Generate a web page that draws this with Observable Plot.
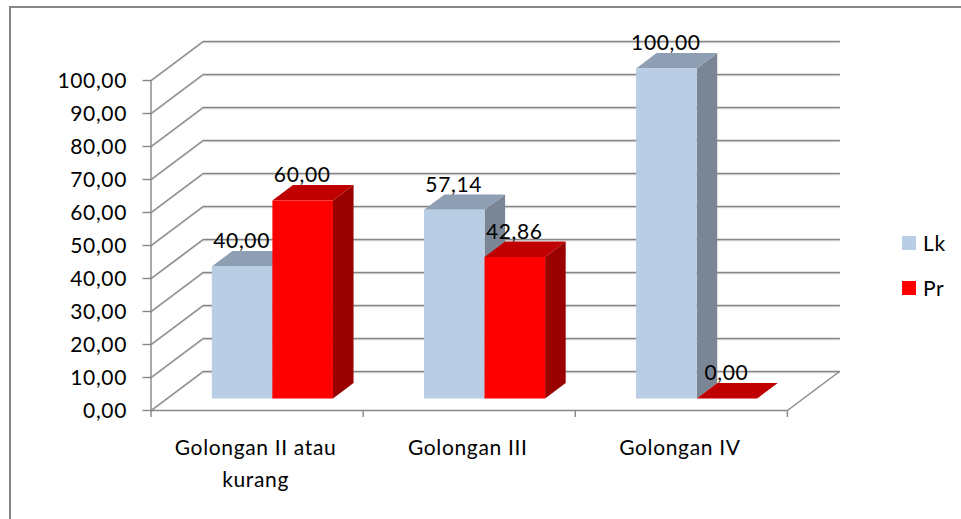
<!DOCTYPE html>
<html><head><meta charset="utf-8">
<script src="https://cdn.jsdelivr.net/npm/d3@7"></script>
<script src="https://cdn.jsdelivr.net/npm/@observablehq/plot@0.6"></script>
<style>
html,body{margin:0;padding:0;background:#fff;overflow:hidden}
#wrap{position:relative;width:961px;height:519px;overflow:hidden;font-family:Lato,sans-serif;color:#000}
#frame{position:absolute;left:9px;top:6px;width:1000px;height:600px;border:2px solid #868686;box-sizing:border-box}
#chart{position:absolute;left:0;top:0}
#chart svg{background:transparent;display:block}
#chart svg text{letter-spacing:.65px}
.lg{position:absolute;left:902px;width:14px;height:14px}
.lt{position:absolute;left:923px;font-size:21px;line-height:24px;letter-spacing:.6px}
</style></head><body>
<div id="wrap"><div id="frame"></div><div id="chart"></div>
<div class="lg" style="top:236px;background:#B9CDE5"></div><div class="lt" style="top:231px">Lk</div>
<div class="lg" style="top:281px;background:#FF0000"></div><div class="lt" style="top:276px">Pr</div>
</div>
<script>
const categories = ["Golongan II atau\nkurang", "Golongan III", "Golongan IV"];
const seriesNames = ["Lk", "Pr"];
const lkValues = [40, 57.14, 100];
const prValues = [60, 42.86, 0];
const yTicks = [0,10,20,30,40,50,60,70,80,90,100];
const catEdges = [0,1,2,3];

// oblique 3D projection, in data units
const depthX = 0.2455, depthY = 11.82;
const proj = (c, v, d) => ({x: c + d * depthX, y: v + d * depthY});
const comma = v => v.toFixed(2).replace(".", ",");
const gridCol = "#868686";

const palette = {
  Lk: {front: "#B9CDE5", top: "#8E9EB3", side: "#7A8695"},
  Pr: {front: "#FF0000", top: "#C00000", side: "#990000"}
};
const barW = 0.2856, barStart = 0.2105, dFront = 0.31, dBack = 0.705;

const bars = [];
categories.forEach((_, i) => {
  bars.push({s: "Lk", v: lkValues[i], c0: i + barStart, c1: i + barStart + barW});
  bars.push({s: "Pr", v: prValues[i], c0: i + barStart + barW, c1: i + barStart + 2 * barW});
});

const face = (pts, fill) => Plot.line(pts, {x: "x", y: "y", fill, stroke: "none", curve: "linear"});

const barMarks = bars.flatMap(b => {
  const p = palette[b.s];
  const marks = [];
  if (b.v > 0) marks.push(face([proj(b.c1,0,dFront),proj(b.c1,b.v,dFront),proj(b.c1,b.v,dBack),proj(b.c1,0,dBack)], p.side));
  marks.push(face([proj(b.c0,b.v,dFront),proj(b.c1,b.v,dFront),proj(b.c1,b.v,dBack),proj(b.c0,b.v,dBack)], p.top));
  if (b.v > 0) marks.push(face([proj(b.c0,0,dFront),proj(b.c1,0,dFront),proj(b.c1,b.v,dFront),proj(b.c0,b.v,dFront)], p.front));
  return marks;
});

const gridPts = yTicks.flatMap(v => [proj(0,v,0), proj(0,v,1), proj(3,v,1)].map(p => ({...p, v})));

const plot = Plot.plot({
  width: 961, height: 519,
  marginLeft: 150.5, marginRight: 122, marginTop: 41, marginBottom: 109,
  x: {domain: [0, 3 + depthX]},
  y: {domain: [0, 100 + depthY]},
  style: {fontFamily: "Lato, sans-serif", color: "#000"},
  marks: [
    Plot.line(gridPts, {x: "x", y: "y", z: "v", stroke: "#D4D4D4", strokeWidth: 1, dy: 1.2, curve: "linear"}),
    Plot.line(gridPts, {x: "x", y: "y", z: "v", stroke: gridCol, strokeWidth: 1.4, curve: "linear"}),
    Plot.line([proj(3,0,0), proj(3,0,1)], {x: "x", y: "y", stroke: gridCol, strokeWidth: 1.4, curve: "linear"}),
    Plot.ruleX([0], {y1: 0, y2: 100, stroke: gridCol, strokeWidth: 1.4}),
    Plot.ruleY([0], {x1: 0, x2: 3, stroke: gridCol, strokeWidth: 1.4}),
    Plot.axisY({ticks: yTicks, tickSize: 8, tickFormat: () => "", label: null, stroke: gridCol, strokeWidth: 1.4}),
    Plot.axisX({ticks: catEdges, tickSize: 7, tickFormat: () => "", label: null, stroke: gridCol, strokeWidth: 1.4}),
    Plot.text(yTicks, {
      x: () => 0, y: d => d, text: comma, dx: -24, dy: 1, textAnchor: "end", fontSize: 21, fill: "#000"
    }),
    ...barMarks,
    Plot.text(bars, {
      x: d => (d.c0 + d.c1) / 2 + dFront * depthX,
      y: d => d.v + dFront * depthY,
      text: d => comma(d.v), dx: -0.5, dy: -25, fontSize: 21, fill: "#000"
    }),
    Plot.text(categories, {
      x: (d, i) => i + 0.5, y: () => 0,
      text: d => d, dx: -1.5, dy: 22, fontSize: 21, lineHeight: 1.52, lineAnchor: "top", textAnchor: "middle", fill: "#000"
    })
  ]
});
document.getElementById("chart").append(plot);
</script></body></html>
